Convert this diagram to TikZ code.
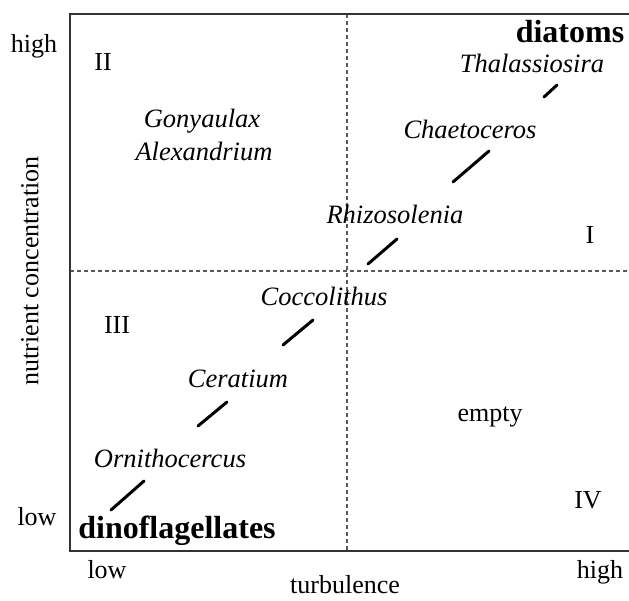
\documentclass[tikz,border=0pt]{standalone}
\usepackage{fontspec}
\setmainfont{Liberation Serif}
\begin{document}
\begin{tikzpicture}[x=1pt,y=-1pt,
  lbl/.style={inner sep=0pt, anchor=base, font=\fontsize{26}{28}\selectfont},
  sp/.style={inner sep=0pt, anchor=base, font=\fontsize{26.5}{28}\selectfont\itshape},
  grp/.style={inner sep=0pt, anchor=base, font=\fontsize{32}{34}\selectfont\bfseries},
  frame/.style={line width=2pt, draw=black!80},
  divider/.style={line width=1.2pt, draw=black!65, dash pattern=on 4pt off 3pt},
  slash/.style={line width=3pt, line cap=round, draw=black}]
\useasboundingbox (0,0) rectangle (629,600);
% dividers
\coordinate (vt) at (347,14);
\coordinate (vb) at (347,551);
\coordinate (hl) at (70,271);
\coordinate (hr) at (629,271);
\draw[divider] (vt) -- (vb);
\draw[divider] (hl) -- (hr);
% frame
\coordinate (tl) at (70,14);
\coordinate (tr) at (629,14);
\coordinate (bl) at (70,551);
\coordinate (br) at (629,551);
\draw[frame] (tr) -- (tl) -- (bl) -- (br);
% axis labels
\node[lbl] (yhigh) at (34,52) {high};
\node[lbl] (ylow) at (37,525) {low};
\node[lbl, anchor=center, rotate=90] (ylab) at (30,271) {nutrient concentration};
\node[lbl] (xlow) at (107,578) {low};
\node[lbl] (xlab) at (345,593) {turbulence};
\node[lbl] (xhigh) at (600,578) {high};
% quadrant numbers
\node[lbl, anchor=center] (q2) at (103,62) {II};
\node[lbl, anchor=center] (q1) at (590,235) {I};
\node[lbl, anchor=center] (q3) at (117,325) {III};
\node[lbl, anchor=center] (q4) at (588,500) {IV};
\node[lbl] (empty) at (490,421) {empty};
% groups
\node[grp] (diatoms) at (570,42) {diatoms};
\node[grp] (dino) at (177,538) {dinoflagellates};
% species
\node[sp] (thal) at (532,72) {Thalassiosira};
\node[sp] (gony) at (202,127) {Gonyaulax};
\node[sp] (alex) at (204,160) {Alexandrium};
\node[sp] (chae) at (470,138) {Chaetoceros};
\node[sp] (rhiz) at (395,223) {Rhizosolenia};
\node[sp] (cocc) at (324,305) {Coccolithus};
\node[sp] (cera) at (238,387) {Ceratium};
\node[sp] (orni) at (170,467) {Ornithocercus};
% slashes
\coordinate (s1a) at (544,97); \coordinate (s1b) at (557,85);
\coordinate (s2a) at (453,182); \coordinate (s2b) at (489,151);
\coordinate (s3a) at (368,264); \coordinate (s3b) at (397,239);
\coordinate (s4a) at (283,345); \coordinate (s4b) at (313,320);
\coordinate (s5a) at (198,426); \coordinate (s5b) at (227,402);
\coordinate (s6a) at (111,510); \coordinate (s6b) at (144,481);
\draw[slash] (s1a) -- (s1b);
\draw[slash] (s2a) -- (s2b);
\draw[slash] (s3a) -- (s3b);
\draw[slash] (s4a) -- (s4b);
\draw[slash] (s5a) -- (s5b);
\draw[slash] (s6a) -- (s6b);
\end{tikzpicture}
\end{document}
